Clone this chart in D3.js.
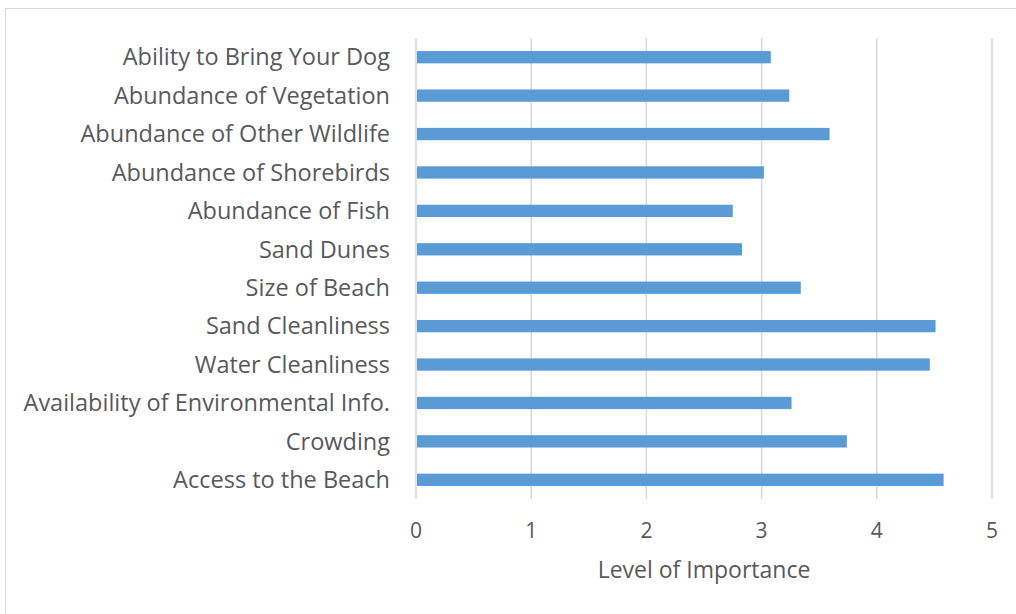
<!DOCTYPE html>
<html lang="en">
<head>
    <meta charset="UTF-8">
    <title>Level of Importance</title>
    <style>
        * { margin: 0; padding: 0; }
        body { background: #fff; }
        svg { display: block; }
    </style>
</head>
<body>
    <svg></svg>
    <script src="https://cdn.jsdelivr.net/npm/d3@7/dist/d3.min.js"></script>
    <script>
        // categories from top to bottom
        const categories = [
            'Ability to Bring Your Dog',
            'Abundance of Vegetation',
            'Abundance of Other Wildlife',
            'Abundance of Shorebirds',
            'Abundance of Fish',
            'Sand Dunes',
            'Size of Beach',
            'Sand Cleanliness',
            'Water Cleanliness',
            'Availability of Environmental Info.',
            'Crowding',
            'Access to the Beach'
        ]
        const values = [3.08, 3.24, 3.59, 3.02, 2.75, 2.83, 3.34, 4.51, 4.46, 3.26, 3.74, 4.58]
        const xTicks = [0, 1, 2, 3, 4, 5]
        const xTitle = 'Level of Importance'

        const W = 1016, H = 614
        const plotL = 416, plotR = 992, plotT = 38, plotB = 499
        const font = '"Open Sans", "Noto Sans", sans-serif'

        const svg = d3.select('svg').attr('width', W).attr('height', H)

        // chart frame
        svg.append('rect')
            .attr('x', 5.5).attr('y', 8.5)
            .attr('width', W + 10).attr('height', H)
            .attr('fill', 'none').attr('stroke', '#d9d9d9').attr('stroke-width', 1)

        const x = d3.scaleLinear().domain([0, 5]).range([plotL, plotR])
        const y = d3.scaleBand().domain(categories).range([plotT, plotB])
            .paddingInner(0.68).paddingOuter(0.34)

        // vertical gridlines
        svg.append('g').selectAll('line').data(xTicks).join('line')
            .attr('x1', d => x(d)).attr('x2', d => x(d))
            .attr('y1', plotT).attr('y2', plotB)
            .attr('stroke', '#d9d9d9').attr('stroke-width', 1.5)

        // bars
        svg.append('g').selectAll('rect').data(values).join('rect')
            .attr('x', x(0) + 1)
            .attr('y', (d, i) => y(categories[i]))
            .attr('width', d => x(d) - x(0) - 1)
            .attr('height', y.bandwidth())
            .attr('fill', '#5b9bd5')

        // category labels
        svg.append('g').selectAll('text').data(categories).join('text')
            .attr('x', plotL - 26)
            .attr('y', d => y(d) + y.bandwidth() / 2)
            .attr('dy', '0.35em')
            .attr('text-anchor', 'end')
            .attr('font-family', font).attr('font-size', 23.5)
            .attr('fill', '#595959')
            .text(d => d)

        // tick labels
        svg.append('g').selectAll('text').data(xTicks).join('text')
            .attr('x', d => x(d))
            .attr('y', 531)
            .attr('dy', '0.35em')
            .attr('text-anchor', 'middle')
            .attr('font-family', font).attr('font-size', 21)
            .attr('fill', '#595959')
            .text(d => d)

        // axis title
        svg.append('text')
            .attr('x', (plotL + plotR) / 2)
            .attr('y', 570)
            .attr('dy', '0.35em')
            .attr('text-anchor', 'middle')
            .attr('font-family', font).attr('font-size', 23)
            .attr('fill', '#595959')
            .text(xTitle)
    </script>
</body>
</html>
